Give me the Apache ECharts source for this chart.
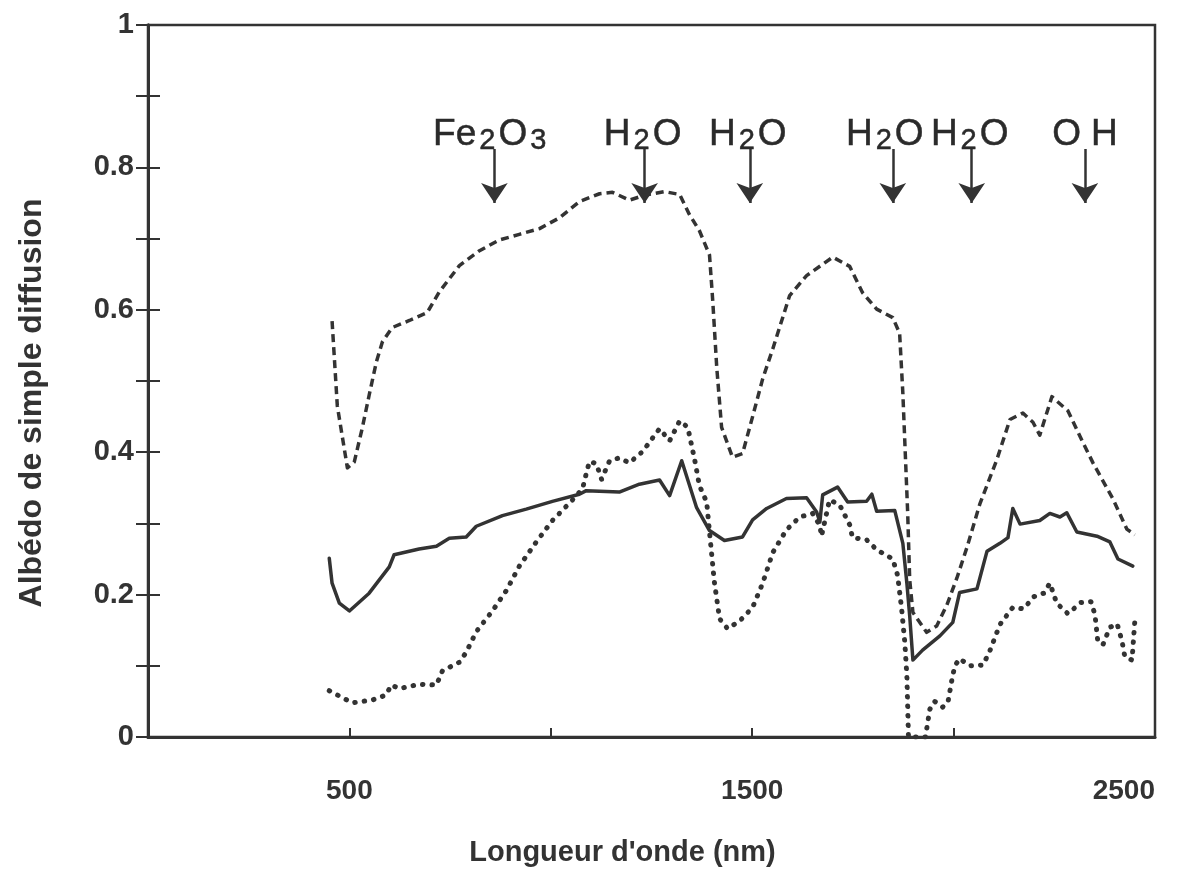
<!DOCTYPE html>
<html>
<head>
<meta charset="utf-8">
<script src="https://cdn.jsdelivr.net/npm/echarts@6/dist/echarts.min.js"></script>
<style>
html,body{margin:0;padding:0;background:#fff;}
#chart{width:1181px;height:871px;}
</style>
</head>
<body>
<div id="chart"></div>
<script>
// ---- data (wavelength nm, single-scattering albedo) ----
const solidCurve = [[450,0.251],[457,0.216],[475,0.188],[500,0.177],[549,0.202],[599,0.239],[611,0.256],[673,0.264],[716,0.268],[748,0.279],[790,0.281],[815,0.296],[880,0.311],[939,0.320],[1004,0.331],[1071,0.341],[1088,0.346],[1170,0.344],[1220,0.355],[1270,0.361],[1295,0.339],[1325,0.388],[1362,0.322],[1394,0.290],[1431,0.276],[1476,0.281],[1501,0.305],[1536,0.321],[1585,0.335],[1635,0.336],[1660,0.316],[1668,0.302],[1675,0.340],[1712,0.351],[1737,0.330],[1784,0.331],[1797,0.341],[1809,0.317],[1854,0.318],[1874,0.272],[1884,0.216],[1891,0.170],[1899,0.108],[1923,0.122],[1966,0.142],[1998,0.161],[2015,0.203],[2058,0.208],[2083,0.261],[2115,0.272],[2135,0.280],[2147,0.321],[2165,0.299],[2214,0.304],[2239,0.314],[2264,0.309],[2281,0.315],[2306,0.288],[2356,0.282],[2388,0.274],[2408,0.250],[2445,0.240]];

const dashedCurve = [[457,0.584],[470,0.465],[495,0.378],[512,0.386],[532,0.434],[549,0.480],[567,0.527],[582,0.555],[606,0.575],[649,0.585],[693,0.596],[723,0.625],[773,0.662],[823,0.683],[872,0.698],[922,0.706],[972,0.714],[1021,0.729],[1071,0.752],[1121,0.763],[1153,0.765],[1195,0.754],[1233,0.761],[1282,0.766],[1320,0.762],[1344,0.734],[1369,0.711],[1394,0.677],[1402,0.613],[1412,0.519],[1424,0.435],[1451,0.393],[1476,0.398],[1501,0.450],[1526,0.503],[1551,0.545],[1593,0.620],[1635,0.648],[1700,0.674],[1742,0.661],[1774,0.624],[1809,0.601],[1849,0.589],[1866,0.567],[1874,0.483],[1886,0.315],[1891,0.221],[1899,0.175],[1933,0.147],[1958,0.156],[1983,0.185],[2008,0.223],[2033,0.266],[2065,0.327],[2107,0.389],[2140,0.446],[2172,0.455],[2197,0.442],[2214,0.424],[2244,0.478],[2284,0.458],[2314,0.422],[2346,0.385],[2396,0.334],[2430,0.292],[2450,0.284]];

const dottedCurve = [[450,0.065],[507,0.048],[557,0.052],[591,0.059],[604,0.073],[624,0.068],[673,0.074],[716,0.073],[731,0.093],[773,0.105],[790,0.119],[815,0.148],[855,0.177],[890,0.206],[922,0.240],[964,0.274],[1004,0.304],[1054,0.333],[1079,0.349],[1088,0.370],[1096,0.387],[1113,0.384],[1126,0.362],[1146,0.388],[1170,0.392],[1195,0.385],[1228,0.401],[1270,0.433],[1295,0.416],[1320,0.444],[1340,0.435],[1357,0.390],[1369,0.353],[1387,0.330],[1394,0.288],[1406,0.218],[1419,0.166],[1439,0.152],[1469,0.163],[1501,0.182],[1526,0.216],[1551,0.259],[1585,0.291],[1618,0.309],[1650,0.314],[1668,0.297],[1672,0.282],[1692,0.333],[1717,0.326],[1742,0.298],[1749,0.280],[1784,0.277],[1809,0.263],[1849,0.250],[1861,0.227],[1871,0.180],[1879,0.132],[1884,0.086],[1888,0.0],[1930,0.0],[1941,0.039],[1953,0.050],[1973,0.042],[1986,0.049],[1996,0.081],[2003,0.100],[2015,0.110],[2040,0.100],[2073,0.101],[2090,0.121],[2115,0.158],[2147,0.182],[2174,0.180],[2199,0.197],[2224,0.202],[2239,0.216],[2256,0.188],[2284,0.173],[2316,0.189],[2341,0.190],[2351,0.172],[2358,0.134],[2371,0.130],[2388,0.154],[2406,0.159],[2418,0.135],[2425,0.113],[2443,0.108],[2450,0.164]];

// absorption band annotations
const bandNames = ['Fe{s|2}O{s|3}', 'H{s|2}O', 'H{s|2}O', 'H{s|2}O', 'H{s|2}O', 'O{g|}H'];
const bandArrowNm = [860, 1233, 1494, 1849, 2045, 2326];
const bandLabelNm = [852, 1228, 1489, 1829, 2040, 2326];

const xLabelValues = [500, 1500, 2500];
const yLabelValues = ['0', '0.2', '0.4', '0.6', '0.8', '1'];

// ---- chart ----
const INK = '#333333';
const AXFONT = "'Liberation Sans',Arial,sans-serif";
const chart = echarts.init(document.getElementById('chart'), null, {renderer: 'canvas'});

const yLab = v => {
  const s = (Math.round(v * 10) / 10);
  const t = s === 0 ? '0' : (s === 1 ? '1' : s.toFixed(1));
  return yLabelValues.indexOf(t) >= 0 ? t : '';
};

const annFont = {fontFamily: AXFONT, color: '#2a2a2a', textBorderColor: '#2a2a2a', textBorderWidth: 0.5};

const option = {
  backgroundColor: '#ffffff',
  animation: false,
  grid: {left: 148, right: 26, top: 25, bottom: 134, show: true, borderColor: INK, borderWidth: 2.5,
    backgroundColor: 'transparent', containLabel: false, outerBoundsMode: 'none'},
  xAxis: {
    type: 'value', min: 0, max: 2500, interval: 500,
    name: "Longueur d'onde (nm)", nameLocation: 'middle', nameGap: 101,
    nameTextStyle: {fontFamily: AXFONT, fontWeight: 'bold', fontSize: 29, color: INK, padding: [0, 58, 0, 0]},
    axisLine: {show: true, onZero: false, lineStyle: {color: INK, width: 3}},
    axisTick: {show: true, inside: true, length: 9, lineStyle: {color: INK, width: 2}},
    axisLabel: {margin: 40, fontFamily: AXFONT, fontWeight: 'bold', fontSize: 28, color: INK,
      alignMaxLabel: 'right',
      formatter: v => xLabelValues.indexOf(v) >= 0 ? String(v) : ''},
    splitLine: {show: false}
  },
  yAxis: [{
    type: 'value', min: 0, max: 1, interval: 0.1,
    name: 'Albédo de simple diffusion', nameLocation: 'middle', nameGap: 100, nameRotate: 90,
    nameTextStyle: {fontFamily: AXFONT, fontWeight: 'bold', fontSize: 32, color: INK, padding: [0, 44, 0, 0]},
    axisLine: {show: true, onZero: false, lineStyle: {color: INK, width: 3}},
    axisTick: {show: true, inside: true, length: 12, lineStyle: {color: INK, width: 2}},
    axisLabel: {margin: 14, fontFamily: AXFONT, fontWeight: 'bold', fontSize: 29, color: INK, formatter: yLab},
    splitLine: {show: false}
  }, {
    type: 'value', min: 0, max: 1, interval: 0.1, position: 'right',
    axisLine: {show: true, lineStyle: {color: INK, width: 3}},
    axisTick: {show: true, inside: true, length: 12, lineStyle: {color: INK, width: 2}},
    axisLabel: {show: false},
    splitLine: {show: false}
  }],
  series: [
    {type: 'line', name: 'solid', data: solidCurve, showSymbol: false, symbol: 'none', clip: true,
      lineStyle: {color: INK, width: 3.5, type: 'solid', join: 'round', cap: 'round'}},
    {type: 'line', name: 'dashed', data: dashedCurve, showSymbol: false, symbol: 'none', clip: true,
      lineStyle: {color: INK, width: 3.5, type: [8, 5], cap: 'butt', join: 'round'}},
    {type: 'line', name: 'dotted', data: dottedCurve, showSymbol: false, symbol: 'none', clip: true,
      lineStyle: {color: INK, width: 5, type: [0.5, 9], cap: 'round', join: 'round'}},
    {type: 'lines', coordinateSystem: 'cartesian2d', silent: true, polyline: false,
      symbol: ['none', 'arrow'], symbolSize: [0, 20],
      lineStyle: {color: INK, width: 2.5, opacity: 1, curveness: 0},
      data: bandArrowNm.map(n => ({coords: [[n, 0.826], [n, 0.750]]}))},
    {type: 'scatter', silent: true, symbolSize: 0, itemStyle: {opacity: 1, color: '#2a2a2a'},
      data: bandLabelNm.map((n, i) => ({value: [n, 0.846], name: bandNames[i]})),
      label: Object.assign({show: true, position: 'inside', formatter: p => p.name, fontSize: 37,
        rich: {
          s: Object.assign({fontSize: 29, verticalAlign: 'bottom', padding: [12, 3, 0, 3]}, annFont),
          g: Object.assign({fontSize: 37, padding: [0, 5, 0, 5]}, annFont)
        }}, annFont)}
  ]
};
chart.setOption(option);
</script>
</body>
</html>
